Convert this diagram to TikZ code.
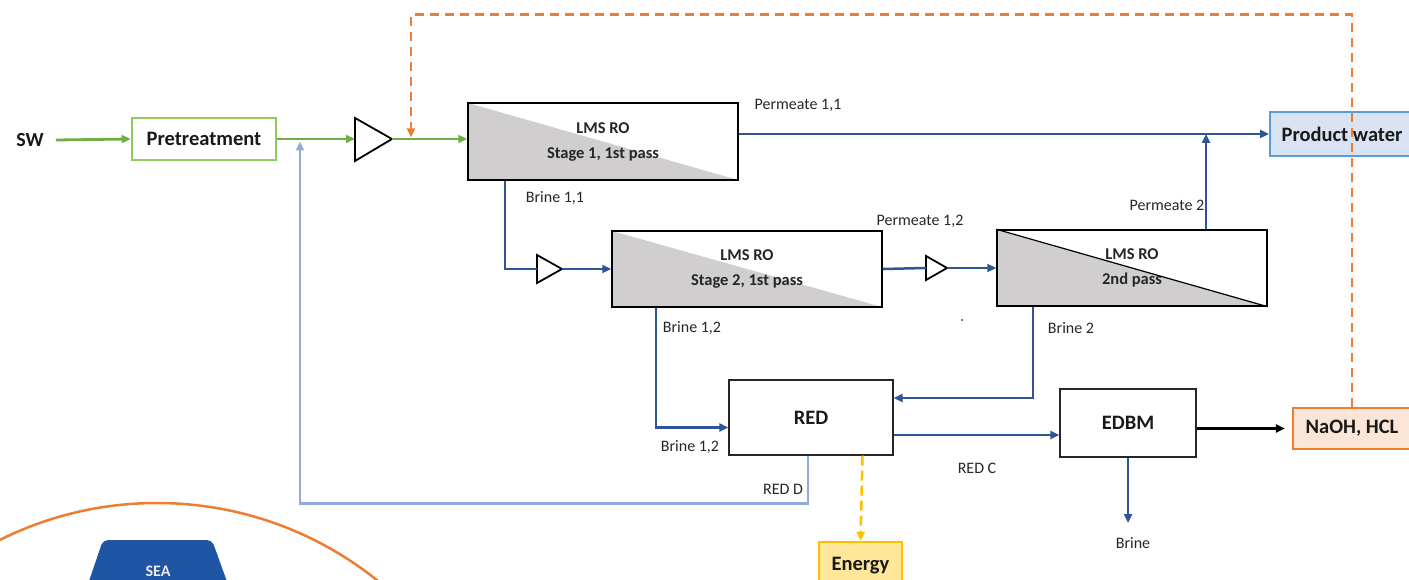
\documentclass[tikz,border=0pt]{standalone}
\usepackage{fontspec}
\setmainfont{Carlito}
\usetikzlibrary{arrows.meta,calc}
\definecolor{cgreen}{HTML}{70AD47}
\definecolor{cgreenl}{HTML}{8DCB5B}
\definecolor{cblue}{HTML}{2F5597}
\definecolor{cbluel}{HTML}{8FAADC}
\definecolor{corange}{HTML}{ED7D31}
\definecolor{cyellow}{HTML}{FFC000}
\definecolor{cgray}{HTML}{D0CECE}
\definecolor{ctext}{HTML}{262626}
\definecolor{cpw}{HTML}{DAE3F3}
\definecolor{cpwb}{HTML}{5B9BD5}
\definecolor{cna}{HTML}{FBE5D6}
\definecolor{cen}{HTML}{FFE699}
\definecolor{csea}{HTML}{1F55A3}
\tikzset{
  blk/.style={draw=black!85, line width=1.4pt, fill=white, inner sep=0pt, text=black!90, font=\fontsize{20.5}{22}\selectfont\bfseries},
  ro/.style={draw=black, line width=1.5pt, inner sep=0pt, align=center, text=black!85, font=\fontsize{16.5}{25}\selectfont\bfseries,
    path picture={\fill[cgray] (path picture bounding box.north west) -- (path picture bounding box.south east) -- (path picture bounding box.south west) -- cycle;}},
  lbl/.style={text=ctext, font=\fontsize{16}{18}\selectfont, inner sep=0pt},
  pump/.style={draw=black, line width=1.8pt, fill=white},
  arr/.style={-{Triangle[length=9pt,width=8pt]}},
  gline/.style={cgreen, line width=2.8pt},
  bline/.style={cblue, line width=2.5pt},
  blline/.style={cbluel, line width=2.5pt},
  oline/.style={corange, line width=2.6pt, dash pattern=on 9pt off 6pt},
  yline/.style={cyellow, line width=2.5pt, dash pattern=on 10pt off 5pt},
}
\begin{document}
\begin{tikzpicture}[x=1pt,y=-1pt]
\useasboundingbox (0,0) rectangle (1409,580);
\clip (0,0) rectangle (1409,580);

% decorative circle and SEA
\draw[corange, line width=2.5pt] (157,855) circle (352);
\fill[csea, rounded corners=5pt] (86,590) -- (103,540) -- (212,540) -- (230,590) -- cycle;
\node[text=white!92!black, font=\fontsize{16}{18}\selectfont\bfseries, inner sep=0pt] (sea) at (158,571) {SEA};

% nodes
\node[text=black!90, font=\fontsize{20}{22}\selectfont\bfseries, inner sep=0pt] (sw) at (30,140) {SW};
\node[blk, draw=cgreenl, line width=2.6pt, minimum width=144pt, minimum height=42pt] (pre) at (204,139) {Pretreatment};
\node[ro, minimum width=270pt, minimum height=77pt] (s1) at (603,141.5) {LMS RO\\Stage 1, 1st pass};
\node[ro, minimum width=270pt, minimum height=76pt] (s2) at (747,269) {LMS RO\\Stage 2, 1st pass};
\node[ro, minimum width=270pt, minimum height=76pt] (p2) at (1132,268) {LMS RO\\2nd pass};
\draw[black, line width=1.2pt] (p2.north west) -- (p2.south east);
\node[blk, draw=cpwb, fill=cpw, line width=2pt, minimum width=144pt, minimum height=44pt] (pw) at (1342,134) {Product water};
\node[blk, minimum width=164pt, minimum height=75pt] (red) at (811,417.5) {RED};
\node[blk, minimum width=136pt, minimum height=68pt] (edbm) at (1128,423) {EDBM};
\node[blk, draw=corange, fill=cna, line width=2.4pt, minimum width=118pt, minimum height=41pt] (naoh) at (1352,428.5) {NaOH, HCL};
\node[blk, draw=cyellow, fill=cen, line width=2.4pt, minimum width=83pt, minimum height=48pt] (energy) at (860.5,566) {Energy};

% pumps
\draw[pump] (355,118) -- (392,139) -- (355,161) -- cycle;
\coordinate (pu1l) at (355,139); \coordinate (pu1r) at (392,139);
\draw[pump] (537,255) -- (562,269) -- (537,283) -- cycle;
\coordinate (pu2l) at (537,269); \coordinate (pu2r) at (562,269);
\draw[pump] (926,256) -- (947,268) -- (926,280) -- cycle;
\coordinate (pu3l) at (926,268); \coordinate (pu3r) at (947,268);

% labels
\node[lbl] (l1) at (798,105) {Permeate 1,1};
\node[lbl] (l2) at (555,198) {Brine 1,1};
\node[lbl] (l3) at (920,221) {Permeate 1,2};
\node[lbl] (l4) at (1167,205) {Permeate 2};
\node[lbl] (l5) at (692,328) {Brine 1,2};
\node[lbl] (l6) at (1071,328) {Brine 2};
\node[lbl] (l7) at (690,447) {Brine 1,2};
\node[lbl] (l8) at (783,489) {RED D};
\node[lbl] (l9) at (977,468) {RED C};
\node[lbl] (l10) at (1133,543) {Brine};
\fill[cblue] (962,320) circle (1.2);

% connectors
\coordinate (jg) at (300,141.5);
\coordinate (jo) at (411,137.5);
\coordinate (brc) at (1128,523);
\draw[gline,arr] ([xshift=12pt]sw.east) -- (pre.west);
\draw[gline,arr] (pre.east) -- (pu1l);
\draw[gline,arr] (pu1r) -- (s1.west |- pu1r);
\draw[blline,arr] ([xshift=-3pt]red.south) -- ++(0,48) -| (jg);
\draw[oline,arr] (naoh.north) -- ++(0,-392) -| (jo);
\draw[bline,arr] (s1.north east |- pw.west) -- (pw.west);
\draw[bline,arr] ([xshift=74pt]p2.north) -- ([xshift=74pt]p2.north |- pw.west);
\draw[bline] ([xshift=-98pt]s1.south) |- (pu2l);
\draw[bline,arr] (pu2r) -- (s2.west);
\draw[bline] (s2.east) -- (pu3l);
\draw[bline,arr] (pu3r) -- (p2.west);
\draw[bline,arr] ([xshift=-91pt]s2.south) |- ([yshift=-10pt]red.west);
\draw[bline,arr] ([xshift=-99pt]p2.south) |- ([yshift=19.5pt]red.east);
\draw[bline,arr] ([yshift=-17.5pt]red.east) -- ([yshift=-17.5pt]red.east -| edbm.west);
\draw[black, line width=2.2pt, arr, shorten >=7pt] (edbm.east |- naoh.west) -- (naoh.west);
\draw[bline,arr] (edbm.south) -- (brc);
\draw[yline,arr] ([xshift=51.5pt]red.south) -- (energy.north);
\end{tikzpicture}
\end{document}
